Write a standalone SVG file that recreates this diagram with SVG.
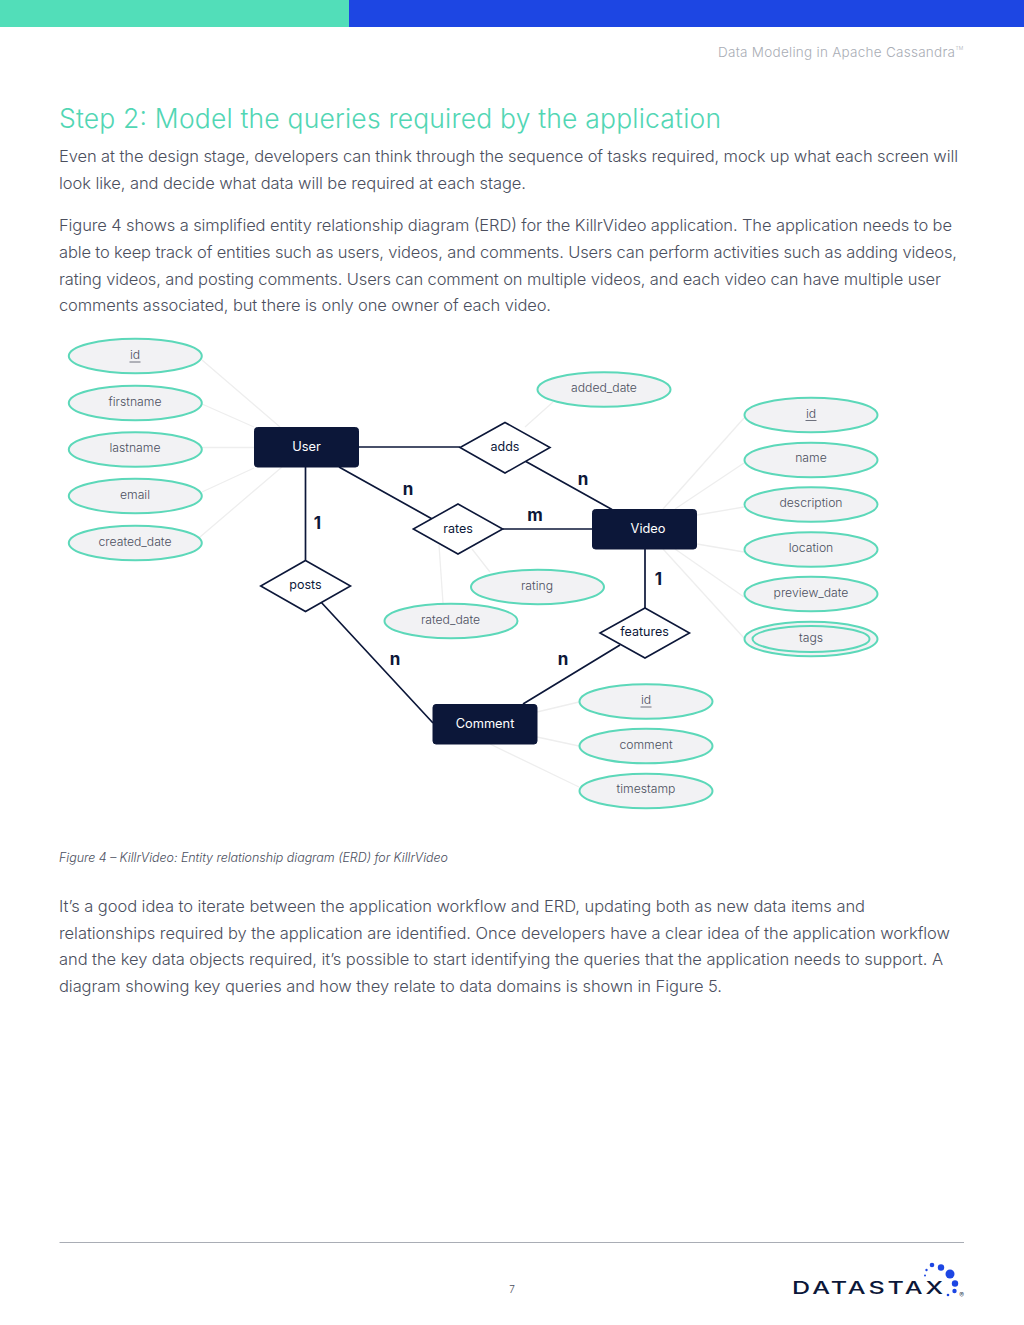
<svg xmlns="http://www.w3.org/2000/svg" width="1024" height="1325" viewBox="0 0 1024 1325">
<style>
text{font-family:"Inter","Roboto","Liberation Sans",sans-serif;font-weight:300}
.body{font-size:16.5px;fill:#4b4f5e}
.ell{fill:#f2f2f4;stroke:#5cd8b9;stroke-width:2}
.rect{fill:#0c1739;stroke:#0c1739;stroke-width:1}
.dia{fill:#fff;stroke:#0c1739;stroke-width:1.6}
.dark{stroke:#0c1739;stroke-width:1.7;fill:none}
.light{stroke:#eeeeee;stroke-width:1.3;fill:none}
.etxt{font-size:12.200px;fill:#4b4f5e;text-anchor:middle}
.rtxt{font-size:12.500px;font-weight:400;fill:#0c1739;text-anchor:middle}
.wtxt{font-size:12.800px;font-weight:400;fill:#fff;text-anchor:middle}
.card{font-size:17px;font-weight:700;fill:#0c1739;text-anchor:middle}
.u{stroke:#4b4f5e;stroke-width:.8}
</style>
<rect x="0" y="0" width="349" height="27" fill="#52deb9"/>
<rect x="349" y="0" width="675" height="27" fill="#1d46e3"/>
<text x="718" y="57" font-size="13.500" fill="#a9adb5" textLength="237">Data Modeling in Apache Cassandra</text>
<text x="955.500" y="50" font-size="5" fill="#a9adb5">TM</text>
<text x="59" y="128" font-size="26.500" fill="#52d6b4" textLength="662">Step 2: Model the queries required by the application</text>
<text class="body" x="59" y="162" textLength="899">Even at the design stage, developers can think through the sequence of tasks required, mock up what each screen will</text>
<text class="body" x="59" y="189" textLength="467">look like, and decide what data will be required at each stage.</text>
<text class="body" x="59" y="231" textLength="893">Figure 4 shows a simplified entity relationship diagram (ERD) for the KillrVideo application. The application needs to be</text>
<text class="body" x="59" y="258" textLength="898">able to keep track of entities such as users, videos, and comments. Users can perform activities such as adding videos,</text>
<text class="body" x="59" y="284.500" textLength="882">rating videos, and posting comments. Users can comment on multiple videos, and each video can have multiple user</text>
<text class="body" x="59" y="311" textLength="492">comments associated, but there is only one owner of each video.</text>
<g id="connectors">
<g class="light">
<path d="M202 360L280 427M202 404L254 427M202 447.500H254M202 492L254 468M200 537L282 467"/>
<path d="M744 418L663 509M744 463L675 509M744 507L697 515M744 552L697 544M744 597L675 549M744 638L663 549"/>
<path d="M490 572L472 549M443 603L439 545M553 402L525 427M579 702L537 712M579 746L537 737M579 787L490 744"/>
</g>
<g class="dark">
<path d="M358.700 447H460M525 461L612 509.500M339 467L434 520M502.700 529H592M305.500 467V560M320 601L433 723M645 549V608M620 645L523 704"/>
</g>
</g>
<g id="attr-user-id"><ellipse class="ell" cx="135.300" cy="356" rx="66.500" ry="17.300"/><text class="etxt" x="135" y="359">id</text><path class="u" d="M129.500 362H140.500"/></g>
<g id="attr-user-firstname"><ellipse class="ell" cx="135.300" cy="403" rx="66.500" ry="17.300"/><text class="etxt" x="135" y="405.500">firstname</text></g>
<g id="attr-user-lastname"><ellipse class="ell" cx="135.300" cy="449.500" rx="66.500" ry="17.300"/><text class="etxt" x="135" y="452">lastname</text></g>
<g id="attr-user-email"><ellipse class="ell" cx="135.300" cy="496" rx="66.500" ry="17.300"/><text class="etxt" x="135" y="499">email</text></g>
<g id="attr-user-created"><ellipse class="ell" cx="135.300" cy="543" rx="66.500" ry="17.300"/><text class="etxt" x="135" y="545.500">created_date</text></g>
<g id="attr-added"><ellipse class="ell" cx="604" cy="389.500" rx="66.500" ry="17.300"/><text class="etxt" x="604" y="392">added_date</text></g>
<g id="attr-video-id"><ellipse class="ell" cx="811" cy="415" rx="66.500" ry="17.300"/><text class="etxt" x="811" y="418">id</text><path class="u" d="M805.500 420.500H816.500"/></g>
<g id="attr-video-name"><ellipse class="ell" cx="811" cy="460" rx="66.500" ry="17.300"/><text class="etxt" x="811" y="462">name</text></g>
<g id="attr-video-description"><ellipse class="ell" cx="811" cy="504.500" rx="66.500" ry="17.300"/><text class="etxt" x="811" y="507">description</text></g>
<g id="attr-video-location"><ellipse class="ell" cx="811" cy="549.500" rx="66.500" ry="17.300"/><text class="etxt" x="811" y="552">location</text></g>
<g id="attr-video-preview"><ellipse class="ell" cx="811" cy="594" rx="66.500" ry="17.300"/><text class="etxt" x="811" y="597">preview_date</text></g>
<g id="attr-video-tags"><ellipse class="ell" cx="811" cy="639" rx="66.500" ry="17.300"/><ellipse class="ell" cx="811" cy="639" rx="58.500" ry="13"/><text class="etxt" x="811" y="642">tags</text></g>
<g id="attr-rating"><ellipse class="ell" cx="537.500" cy="587" rx="66.500" ry="17.300"/><text class="etxt" x="537" y="590">rating</text></g>
<g id="attr-rated"><ellipse class="ell" cx="451" cy="621" rx="66.500" ry="17.300"/><text class="etxt" x="450.500" y="624">rated_date</text></g>
<g id="attr-comment-id"><ellipse class="ell" cx="646" cy="701.500" rx="66.500" ry="17.300"/><text class="etxt" x="646" y="704">id</text><path class="u" d="M640.500 707H651.500"/></g>
<g id="attr-comment-comment"><ellipse class="ell" cx="646" cy="746" rx="66.500" ry="17.300"/><text class="etxt" x="646" y="749">comment</text></g>
<g id="attr-comment-timestamp"><ellipse class="ell" cx="646" cy="791" rx="66.500" ry="17.300"/><text class="etxt" x="646" y="793">timestamp</text></g>
<g id="user"><rect class="rect" x="254.500" y="427.500" width="104" height="39.500" rx="3"/><text class="wtxt" x="306.500" y="451">User</text></g>
<g id="video"><rect class="rect" x="592.500" y="509.500" width="104" height="39.500" rx="3"/><text class="wtxt" x="648" y="533">Video</text></g>
<g id="comment"><rect class="rect" x="433" y="704.500" width="104" height="39.500" rx="3"/><text class="wtxt" x="485" y="728">Comment</text></g>
<g id="adds"><polygon class="dia" points="505,422.500 550,447.500 505,473 460,447.500"/><text class="rtxt" x="505" y="451">adds</text></g>
<g id="rates"><polygon class="dia" points="458,504 502.700,529 458,554 413.300,529"/><text class="rtxt" x="458" y="532.500">rates</text></g>
<g id="posts"><polygon class="dia" points="305.500,560.500 350.500,586 305.500,611.500 260.700,586"/><text class="rtxt" x="305.500" y="589">posts</text></g>
<g id="features"><polygon class="dia" points="645,608 689.500,633 645,658 600,633"/><text class="rtxt" x="644.500" y="636">features</text></g>
<g id="cardinalities">
<text class="card" x="408" y="495">n</text>
<text class="card" x="583" y="485">n</text>
<text class="card" x="535" y="521">m</text>
<text class="card" x="317.500" y="529">1</text>
<text class="card" x="658.500" y="585">1</text>
<text class="card" x="395" y="665">n</text>
<text class="card" x="563" y="665">n</text>
</g>
<text x="59" y="862" font-size="12.500" font-style="italic" fill="#4b4f5e" textLength="389">Figure 4 – KillrVideo: Entity relationship diagram (ERD) for KillrVideo</text>
<text class="body" x="59" y="911.500" textLength="806">It’s a good idea to iterate between the application workflow and ERD, updating both as new data items and</text>
<text class="body" x="59" y="938.500" textLength="891">relationships required by the application are identified. Once developers have a clear idea of the application workflow</text>
<text class="body" x="59" y="965" textLength="884">and the key data objects required, it’s possible to start identifying the queries that the application needs to support. A</text>
<text class="body" x="59" y="992" textLength="663">diagram showing key queries and how they relate to data domains is shown in Figure 5.</text>
<path d="M59.500 1242.500H964" stroke="#a9adb5" stroke-width="1" fill="none"/>
<text x="512" y="1293" font-size="10" fill="#4b4f5e" text-anchor="middle">7</text>
<g id="logo">
<text x="792" y="1293.500" font-size="17" style="font-weight:500;letter-spacing:2px" fill="#0c1739" textLength="154" lengthAdjust="spacingAndGlyphs">DATASTAX</text>
<g fill="#1d46e3"><circle cx="950" cy="1274" r="4.500"/><circle cx="941" cy="1267.500" r="3.200"/><circle cx="932" cy="1265" r="2.300"/><circle cx="926.500" cy="1270" r="1.200"/><circle cx="925" cy="1275.500" r="1"/><circle cx="955" cy="1283.500" r="3.200"/><circle cx="954.500" cy="1291" r="2.200"/><circle cx="948" cy="1295" r="1.300"/></g>
<text x="961.500" y="1298" font-size="7" fill="#0c1739" text-anchor="middle">®</text>
</g>
</svg>
